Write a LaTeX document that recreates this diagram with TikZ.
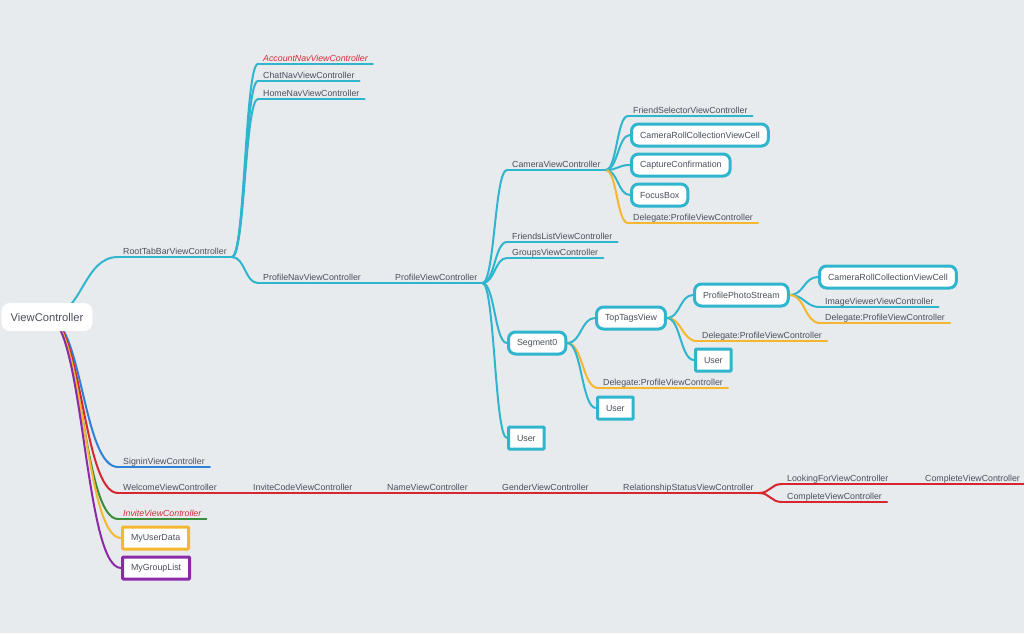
\documentclass[tikz,border=0pt]{standalone}
\usepackage{fontspec}
\setmainfont{Liberation Sans}
\usetikzlibrary{calc}
\definecolor{bgc}{HTML}{E8EBEE}
\definecolor{tealc}{HTML}{2FB5CD}
\definecolor{orangec}{HTML}{F5B730}
\definecolor{redc}{HTML}{D8262F}
\definecolor{bluec}{HTML}{2F80D6}
\definecolor{greenc}{HTML}{3A8D3A}
\definecolor{purplec}{HTML}{8B2AA6}
\definecolor{txt}{HTML}{4A505C}
\definecolor{alert}{HTML}{D42A36}
\pgfdeclarelayer{backdrop}
\pgfdeclarelayer{edges}
\pgfsetlayers{backdrop,edges,main}
\tikzset{
  topic/.style={anchor=south west, inner xsep=5pt, inner ysep=1.5pt,
    text height=6.5pt, text depth=1pt, font=\fontsize{8.8}{10}\selectfont, text=txt,
    append after command={(\tikzlastnode.south west) edge[line width=2pt, draw=#1, line cap=round] (\tikzlastnode.south east)}},
  alerttext/.style={text=alert, font=\fontsize{8.8}{10}\selectfont\itshape},
  box/.style={draw=#1, line width=3pt, fill=white, rounded corners=7pt, anchor=west,
    inner xsep=8.5pt, inner ysep=0pt, minimum height=22pt, font=\fontsize{8.85}{11}\selectfont, text=txt},
  sqbox/.style={box=#1, rounded corners=1pt},
  rootnode/.style={fill=white, rounded corners=8pt, inner xsep=9pt, minimum height=28pt,
    font=\fontsize{11.2}{13}\selectfont, text=txt},
  branch/.style={to path={let \p1=(\tikztostart), \p2=(\tikztotarget) in
    .. controls ({0.5*\x1+0.5*\x2},\y1) and ({0.5*\x1+0.5*\x2},\y2) .. (\tikztotarget)}},
  link/.style={line width=2pt, draw=#1, line cap=round, branch},
}
\begin{document}
\begin{tikzpicture}[x=1pt,y=-1pt]
\begin{pgfonlayer}{backdrop}
  \fill[bgc] (0,0) rectangle (1024,633);
\end{pgfonlayer}
\useasboundingbox (0,0) rectangle (1024,633);

% root
\node[rootnode] (root) at (47,317) {ViewController};

% tab bar branch
\node[topic=tealc] (rtb) at (118,257) {RootTabBarViewController};
\node[topic=tealc, alerttext] (acc) at (258,64) {AccountNavViewController};
\node[topic=tealc] (chat) at (258,81) {ChatNavViewController};
\node[topic=tealc] (home) at (258,99) {HomeNavViewController};
\node[topic=tealc] (pnav) at (258,283) {ProfileNavViewController};
\node[topic=tealc] (pvc) at (390,283) {ProfileViewController};

% camera
\node[topic=tealc] (cam) at (507,170) {CameraViewController};
\node[topic=tealc] (fsel) at (628,116) {FriendSelectorViewController};
\node[box=tealc] (crc1) at (630,135) {CameraRollCollectionViewCell};
\node[box=tealc] (capt) at (630,165) {CaptureConfirmation};
\node[box=tealc] (focus) at (630,195) {FocusBox};
\node[topic=orangec] (camdel) at (628,223) {Delegate:ProfileViewController};

\node[topic=tealc] (flist) at (507,242) {FriendsListViewController};
\node[topic=tealc] (groups) at (507,258) {GroupsViewController};

% segment
\node[box=tealc] (seg) at (507,343) {Segment0};
\node[sqbox=tealc] (user1) at (507,438) {User};
\node[box=tealc] (tt) at (595,318) {TopTagsView};
\node[topic=orangec] (segdel) at (598,388) {Delegate:ProfileViewController};
\node[sqbox=tealc] (user3) at (596,408) {User};
\node[box=tealc] (pps) at (693,295) {ProfilePhotoStream};
\node[topic=orangec] (ttdel) at (697,341) {Delegate:ProfileViewController};
\node[sqbox=tealc] (user2) at (694,360) {User};
\node[box=tealc] (crc2) at (818,277) {CameraRollCollectionViewCell};
\node[topic=tealc] (imgv) at (820,307) {ImageViewerViewController};
\node[topic=orangec] (ppsdel) at (820,323) {Delegate:ProfileViewController};

% lower branches
\node[topic=bluec] (signin) at (118,467) {SigninViewController};
\node[topic=redc] (welcome) at (118,493) {WelcomeViewController};
\node[topic=redc] (invcode) at (248,493) {InviteCodeViewController};
\node[topic=redc] (name) at (382,493) {NameViewController};
\node[topic=redc] (gender) at (497,493) {GenderViewController};
\node[topic=redc] (rel) at (618,493) {RelationshipStatusViewController};
\node[topic=redc] (look) at (782,484) {LookingForViewController};
\node[topic=redc] (done) at (920,484) {CompleteViewController};
\node[topic=redc] (done2) at (782,502) {CompleteViewController};
\node[topic=greenc, alerttext] (invite) at (118,519) {InviteViewController};
\node[sqbox=orangec] (mud) at (121,538) {MyUserData};
\node[sqbox=purplec] (mgl) at (121,568) {MyGroupList};

\begin{pgfonlayer}{edges}
  \draw[link=tealc] (root.center) to (rtb.south west);
  \draw[link=bluec] (root.center) to (signin.south west);
  \draw[link=redc] (root.center) to (welcome.south west);
  \draw[link=greenc] (root.center) to (invite.south west);
  \draw[link=orangec] (root.center) to (mud.west);
  \draw[link=purplec] (root.center) to (mgl.west);

  \foreach \t in {acc,chat,home,pnav}
    \draw[link=tealc] (rtb.south east) to (\t.south west);
  \draw[link=tealc] (pnav.south east) to (pvc.south west);

  \foreach \t in {cam,flist,groups}
    \draw[link=tealc] (pvc.south east) to (\t.south west);
  \draw[link=tealc] (pvc.south east) to (seg.west);
  \draw[link=tealc] (pvc.south east) to (user1.west);

  \draw[link=tealc] (cam.south east) to (fsel.south west);
  \foreach \t in {crc1,capt,focus}
    \draw[link=tealc] (cam.south east) to (\t.west);
  \draw[link=orangec] (cam.south east) to (camdel.south west);

  \draw[link=tealc] (seg.east) to (tt.west);
  \draw[link=orangec] (seg.east) to (segdel.south west);
  \draw[link=tealc] (seg.east) to (user3.west);

  \draw[link=tealc] (tt.east) to (pps.west);
  \draw[link=orangec] (tt.east) to (ttdel.south west);
  \draw[link=tealc] (tt.east) to (user2.west);

  \draw[link=tealc] (pps.east) to (crc2.west);
  \draw[link=tealc] (pps.east) to (imgv.south west);
  \draw[link=orangec] (pps.east) to (ppsdel.south west);

  \draw[link=redc] (welcome.south east) to (invcode.south west);
  \draw[link=redc] (invcode.south east) to (name.south west);
  \draw[link=redc] (name.south east) to (gender.south west);
  \draw[link=redc] (gender.south east) to (rel.south west);
  \draw[link=redc] (rel.south east) to (look.south west);
  \draw[link=redc] (rel.south east) to (done2.south west);
  \draw[link=redc] (look.south east) to (done.south west);
\end{pgfonlayer}
\end{tikzpicture}
\end{document}
